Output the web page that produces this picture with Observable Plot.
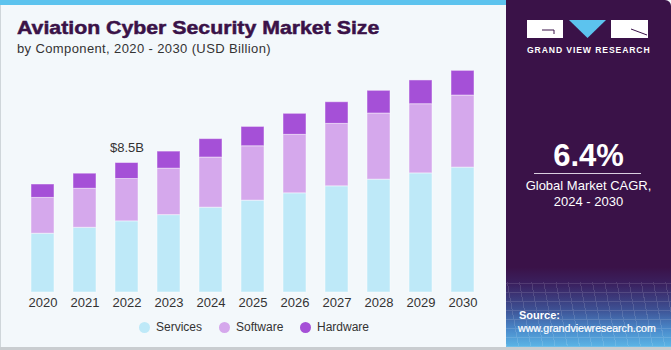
<!DOCTYPE html>
<html>
<head>
<meta charset="utf-8">
<script src="https://cdn.jsdelivr.net/npm/d3@7"></script>
<script src="https://cdn.jsdelivr.net/npm/@observablehq/plot@0.6"></script>
<style>
  html, body { margin: 0; padding: 0; background: #fff; }
  #wrap { position: relative; width: 671px; height: 350px; overflow: hidden; background: #F3F8FB; font-family: "Liberation Sans", Arial, sans-serif; }
  #topbar { position: absolute; left: 0; top: 0; width: 506px; height: 5px; background: #5CC3EE; }
  #leftline { position: absolute; left: 0; top: 5px; width: 1px; height: 345px; background: #cfd6da; }
  #bottomline { position: absolute; left: 0; top: 347px; width: 671px; height: 3px; background: #c9cdd0; }
  #title { position: absolute; left: 17px; top: 17px; font-size: 19px; font-weight: 900; color: #3A1248; white-space: nowrap; transform: scaleX(1.12); transform-origin: 0 0; -webkit-text-stroke: 0.5px #3A1248; }
  #subtitle { position: absolute; left: 17px; top: 41px; font-size: 13px; color: #333; white-space: nowrap; letter-spacing: 0.38px; }
  #chart { position: absolute; left: 0; top: 60px; }
  #legend { position: absolute; top: 320px; left: 0; width: 500px; height: 16px; font-size: 12px; color: #333; }
  .li { position: absolute; top: 0; display: flex; align-items: center; white-space: nowrap; }
  .dot { width: 11px; height: 11px; border-radius: 50%; margin-right: 6px; }
  #panel { position: absolute; left: 506px; top: 0; width: 165px; height: 347px; border-top-right-radius: 6px; overflow: hidden;
    background: linear-gradient(to bottom, #3A1248 0%, #3A1248 77%, #3a2160 82%, #3d4f92 89%, #4a8acb 95%, #5cb6e6 100%); }
  #grid { position: absolute; left: 0; top: 282px; width: 165px; height: 65px; opacity: 0.12;
    background-image: repeating-linear-gradient(80deg, #fff 0 1px, transparent 1px 12px), repeating-linear-gradient(0deg, #fff 0 1px, transparent 1px 9px); }
  #logo { position: absolute; left: 21px; top: 20px; width: 121px; height: 18px; }
  #gvr { position: absolute; left: 21px; top: 45px; width: 121px; text-align: center; font-size: 8.6px; font-weight: bold; color: #fff; letter-spacing: 0.9px; white-space: nowrap; }
  #cagr { position: absolute; left: 0; top: 138px; width: 165px; text-align: center; font-size: 31px; font-weight: bold; color: #fff; }
  #rule { position: absolute; left: 28px; top: 173px; width: 107px; height: 1px; background: #d9cfe0; }
  #cagrtxt { position: absolute; left: 0; top: 178px; width: 165px; text-align: center; font-size: 13px; line-height: 16px; color: #fff; }
  #src1 { position: absolute; left: 13px; top: 309px; font-size: 11px; font-weight: bold; color: #fff; }
  #src2 { position: absolute; left: 12px; top: 322px; font-size: 10.6px; color: #fff; white-space: nowrap; -webkit-text-stroke: 0.2px #fff; }
</style>
</head>
<body>
<div id="wrap">
  <div id="topbar"></div>
  <div id="leftline"></div>
  <div id="title">Aviation Cyber Security Market Size</div>
  <div id="subtitle">by Component, 2020 - 2030 (USD Billion)</div>
  <div id="chart"></div>
  <div id="legend"></div>
  <div id="panel">
    <div id="grid"></div>
    <svg id="logo" viewBox="0 0 121 18" width="121" height="18">
      <rect x="0" y="0" width="36" height="18" fill="#fff"/>
      <path d="M15 10 H27 V14" stroke="#3A1248" stroke-width="1" fill="none"/>
      <polygon points="42,0 79,0 60.5,18" fill="#5CC3EE"/>
      <rect x="84" y="0" width="37" height="18" fill="#fff"/>
      <path d="M104 9 L120 15" stroke="#3A1248" stroke-width="1" fill="none"/>
    </svg>
    <div id="gvr">GRAND VIEW RESEARCH</div>
    <div id="cagr">6.4%</div>
    <div id="rule"></div>
    <div id="cagrtxt">Global Market CAGR,<br>2024 - 2030</div>
    <div id="src1">Source:</div>
    <div id="src2">www.grandviewresearch.com</div>
  </div>
  <div id="bottomline"></div>
</div>
<script>
const years = ["2020","2021","2022","2023","2024","2025","2026","2027","2028","2029","2030"];
const services = [3.86, 4.25, 4.67, 5.08, 5.57, 6.03, 6.51, 6.97, 7.41, 7.82, 8.20];
const software = [2.35, 2.56, 2.78, 3.05, 3.29, 3.57, 3.84, 4.10, 4.34, 4.54, 4.73];
const hardware = [0.88, 0.99, 1.05, 1.12, 1.21, 1.27, 1.38, 1.42, 1.49, 1.56, 1.62];
const segments = ["Services", "Software", "Hardware"];
const colors = ["#BEE9F8", "#D5A8EC", "#A550D7"];
const annotations = [{year: "2022", label: "$8.5B"}];

const series = [services, software, hardware];
const rows = [];
years.forEach((y, i) => segments.forEach((s, j) => rows.push({year: y, segment: s, value: series[j][i]})));
const totals = years.map((y, i) => ({year: y, total: services[i] + software[i] + hardware[i]}));
const labelRows = annotations.map(a => ({...a, total: totals.find(t => t.year === a.year).total}));

const chart = Plot.plot({
  width: 500,
  height: 260,
  marginLeft: 11,
  marginRight: 7,
  marginTop: 0,
  marginBottom: 28,
  style: {background: "transparent", fontFamily: "Liberation Sans, Arial, sans-serif"},
  x: {domain: years, padding: 0.454, label: null},
  y: {domain: [0, 15.23], axis: null},
  color: {domain: segments, range: colors},
  marks: [
    Plot.barY(rows, Plot.stackY({x: "year", y: "value", fill: "segment", order: segments, stroke: "#ffffff", strokeOpacity: 0.45, strokeWidth: 1})),
    Plot.axisX({tickSize: 0, tickPadding: 5, fontSize: 13, color: "#333", label: null}),
    Plot.text(labelRows, {x: "year", y: "total", text: "label", dy: -15, fontSize: 13, fill: "#333"})
  ]
});
document.getElementById("chart").appendChild(chart);

const legend = document.getElementById("legend");
const legendX = [139, 219, 300];
segments.forEach((s, i) => {
  const d = document.createElement("div");
  d.className = "li";
  d.style.left = legendX[i] + "px";
  d.innerHTML = `<span class="dot" style="background:${colors[i]}"></span><span>${s}</span>`;
  legend.appendChild(d);
});
</script>
</body>
</html>
